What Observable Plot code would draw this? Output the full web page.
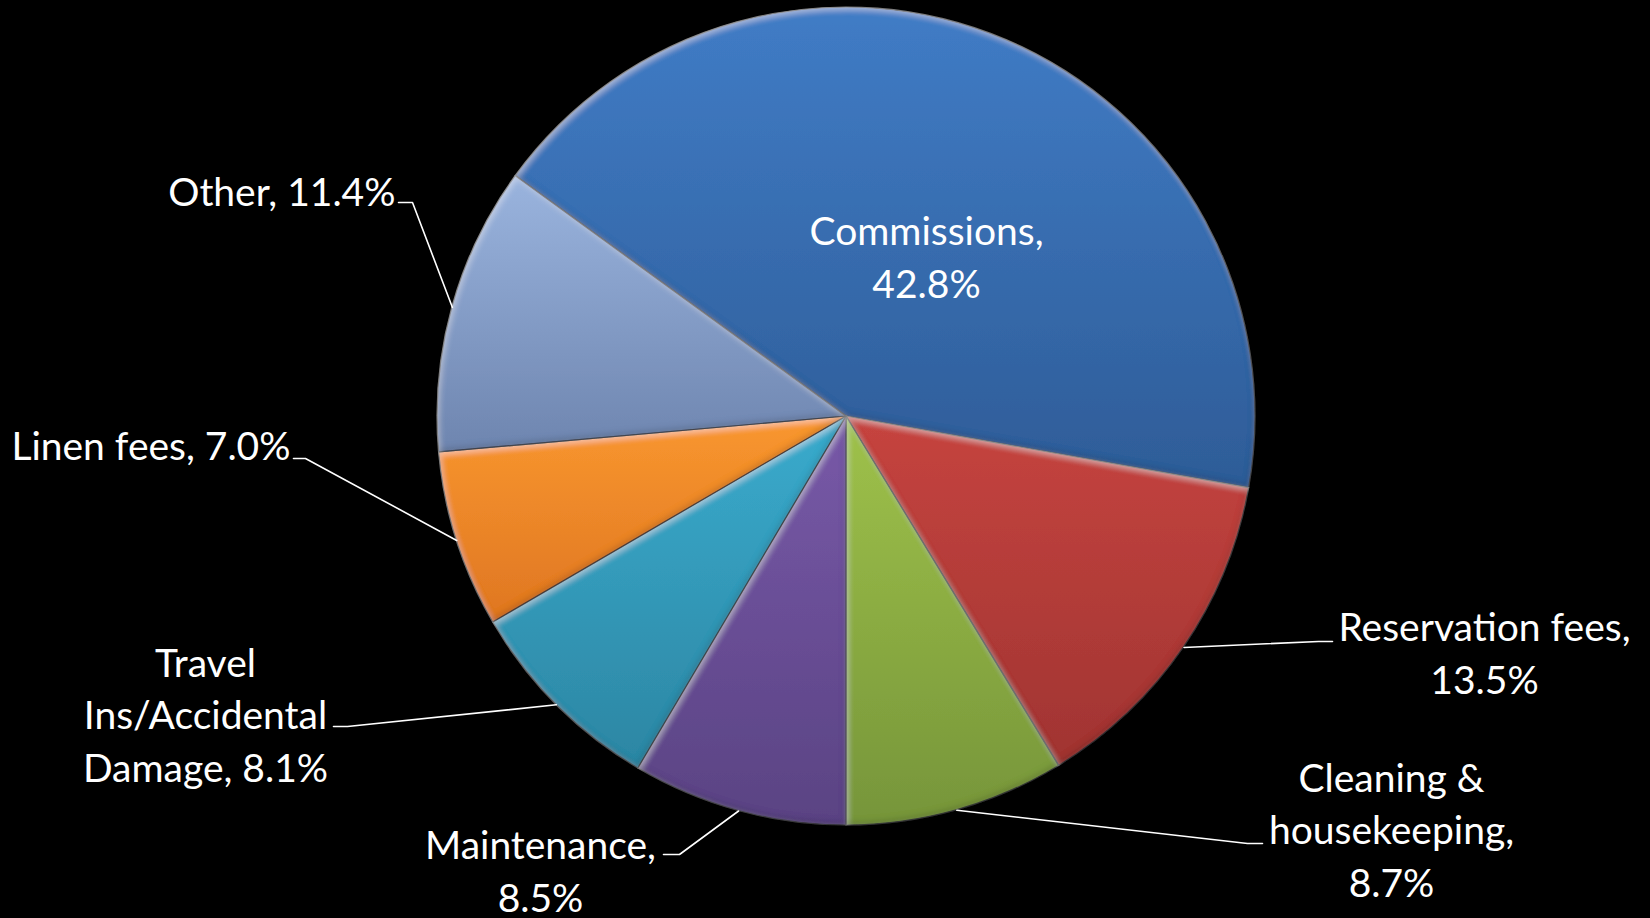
<!DOCTYPE html>
<html>
<head>
<meta charset="utf-8">
<script src="https://cdn.jsdelivr.net/npm/d3@7"></script>
<script src="https://cdn.jsdelivr.net/npm/@observablehq/plot@0.6"></script>
<style>
  html, body { margin: 0; padding: 0; background: #000; }
  #chart { width: 1650px; height: 918px; overflow: hidden; }
</style>
</head>
<body>
<div id="chart"></div>
<script>
// ---- DATA ----
const categories = [
  "Commissions",
  "Reservation fees",
  "Cleaning & housekeeping",
  "Maintenance",
  "Travel Ins/Accidental Damage",
  "Linen fees",
  "Other"
];
const shares = [42.8, 13.5, 8.7, 8.5, 8.1, 7.0, 11.4];

// ---- STYLE ----
const colorTop    = ["#407cc6", "#c6443f", "#9fc24a", "#7859a8", "#3aabcd", "#f9972f", "#9ab4de"];
const colorBottom = ["#2e5c97", "#a03432", "#76953a", "#5a4383", "#2c86a3", "#df7622", "#6e85af"];
const fontFamily = "Lato, 'Open Sans', sans-serif";
const fontSize = 39;

// ---- LAYOUT (pixel offsets from pie centre) ----
const W = 1650, H = 918, CX = 846, CY = 416, R = 409;
const startTurn = -0.15; // first slice begins at -54 degrees
const labelLayout = [
  {lines: [1, 1],    x: 80,   y: -162,  anchor: "middle"},
  {lines: [2, 1],    x: 638,  y: 234,   anchor: "middle"},
  {lines: [2, 1, 1], x: 545,  y: 411,   anchor: "middle"},
  {lines: [1, 1],    x: -306, y: 452,   anchor: "middle"},
  {lines: [1, 1, 2], x: -641, y: 296,   anchor: "middle"},
  {lines: [3],       x: -556, y: 27,    anchor: "end"},
  {lines: [2],       x: -451, y: -227,  anchor: "end"}
];
const leaderLayout = [
  null,
  {elbow: [472, 225],  end: [486, 225]},
  {elbow: [401, 427],  end: [416, 427]},
  {elbow: [-167, 438], end: [-183, 438]},
  {elbow: [-499, 310], end: [-513, 310]},
  {elbow: [-541, 42],  end: [-553, 42]},
  {elbow: [-434, -214], end: [-448, -214]}
];

// ---- DERIVED ----
const pie = d3.pie().sort(null).value(d => d)
  .startAngle(startTurn * 2 * Math.PI)
  .endAngle(startTurn * 2 * Math.PI + 2 * Math.PI);
const arcs = pie(shares).map((a, i) => ({...a, name: categories[i], i}));

function labelText(i) {
  const words = `${categories[i]}, ${shares[i].toFixed(1)}%`.split(" ");
  const out = [];
  let k = 0;
  for (const n of labelLayout[i].lines) { out.push(words.slice(k, k + n).join(" ")); k += n; }
  return out.join("\n");
}
const labels = categories.map((c, i) => ({name: c, text: labelText(i), x: labelLayout[i].x, y: labelLayout[i].y, anchor: labelLayout[i].anchor}));

const leaders = [];
arcs.forEach((a, i) => {
  const L = leaderLayout[i];
  if (!L) return;
  const mid = (a.startAngle + a.endAngle) / 2;
  leaders.push({name: a.name, x: R * Math.sin(mid), y: -R * Math.cos(mid)});
  leaders.push({name: a.name, x: L.elbow[0], y: L.elbow[1]});
  leaders.push({name: a.name, x: L.end[0], y: L.end[1]});
});

// pie slices render mark
function slices(index, scales) {
  const x = scales.x, y = scales.y;
  const cx = x(0), cy = y(0), r = x(R) - x(0);
  const g = d3.create("svg:g");
  const defs = g.append("defs");
  arcs.forEach((a, i) => {
    const lg = defs.append("linearGradient").attr("id", "sg" + i)
      .attr("x1", 0).attr("y1", 0).attr("x2", 0).attr("y2", 1);
    lg.append("stop").attr("offset", "0%").attr("stop-color", colorTop[i]);
    lg.append("stop").attr("offset", "100%").attr("stop-color", colorBottom[i]);
  });
  const f = defs.append("filter").attr("id", "bevel")
    .attr("x", "-5%").attr("y", "-5%").attr("width", "110%").attr("height", "110%");
  f.append("feGaussianBlur").attr("in", "SourceAlpha").attr("stdDeviation", 3).attr("result", "blur");
  f.append("feOffset").attr("in", "blur").attr("dx", 1.5).attr("dy", 3).attr("result", "offDown");
  f.append("feComposite").attr("in", "SourceAlpha").attr("in2", "offDown").attr("operator", "out").attr("result", "topEdge");
  f.append("feFlood").attr("flood-color", "#ffffff").attr("flood-opacity", 0.4).attr("result", "white");
  f.append("feComposite").attr("in", "white").attr("in2", "topEdge").attr("operator", "in").attr("result", "hl");
  f.append("feOffset").attr("in", "blur").attr("dx", -1.5).attr("dy", -3).attr("result", "offUp");
  f.append("feComposite").attr("in", "SourceAlpha").attr("in2", "offUp").attr("operator", "out").attr("result", "botEdge");
  f.append("feFlood").attr("flood-color", "#000000").attr("flood-opacity", 0.35).attr("result", "black");
  f.append("feComposite").attr("in", "black").attr("in2", "botEdge").attr("operator", "in").attr("result", "sh");
  const m = f.append("feMerge");
  m.append("feMergeNode").attr("in", "SourceGraphic");
  m.append("feMergeNode").attr("in", "hl");
  m.append("feMergeNode").attr("in", "sh");

  const arcGen = d3.arc().innerRadius(0).outerRadius(r);
  g.append("g").attr("transform", `translate(${cx},${cy})`)
    .selectAll("path").data(arcs).join("path")
    .attr("d", arcGen)
    .attr("fill", d => `url(#sg${d.i})`)
    .attr("filter", "url(#bevel)")
    .attr("stroke", "rgba(20,20,30,0.75)")
    .attr("stroke-width", 1.2)
    .attr("stroke-linejoin", "round");
  return g.node();
}

const textCommon = {
  x: "x", y: "y", text: "text",
  fill: "white", fontSize, fontFamily,
  lineAnchor: "middle", lineHeight: 1.35
};

const chart = Plot.plot({
  width: W, height: H,
  margin: 0,
  x: {type: "linear", domain: [-CX, W - CX], range: [0, W], axis: null},
  y: {type: "linear", domain: [-CY, H - CY], range: [0, H], axis: null},
  style: {background: "#000", color: "white", overflow: "visible"},
  marks: [
    slices,
    Plot.line(leaders, {x: "x", y: "y", z: "name", stroke: "white", strokeWidth: 1.6, curve: "linear"}),
    Plot.text(labels.filter(d => d.anchor === "middle"), {...textCommon, textAnchor: "middle"}),
    Plot.text(labels.filter(d => d.anchor === "end"), {...textCommon, textAnchor: "end"})
  ]
});
document.getElementById("chart").append(chart);
</script>
</body>
</html>
